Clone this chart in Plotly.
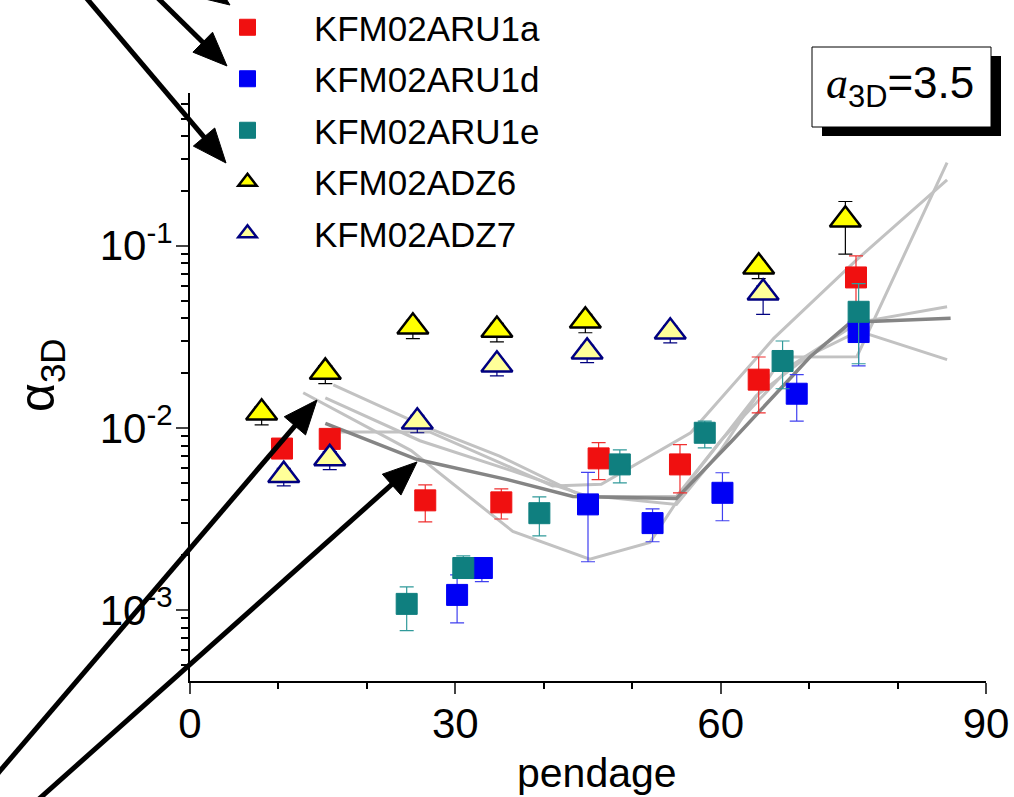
import math
import plotly.graph_objects as go

# ---------------- data ----------------
aru1a_x = [10.4, 15.8, 26.6, 35.2, 46.2, 55.4, 64.3, 75.3]
aru1a_y = [0.0077, 0.0087, 0.0040, 0.0039, 0.0068, 0.0063, 0.0184, 0.067]
aru1a_hi = [0.0077, 0.0087, 0.00486, 0.00462, 0.0083, 0.0081, 0.0245, 0.088]
aru1a_lo = [0.0077, 0.0087, 0.00305, 0.00316, 0.0052, 0.0044, 0.0121, 0.045]

aru1d_x = [30.2, 33.0, 45.0, 52.3, 60.2, 68.6, 75.6]
aru1d_y = [0.00121, 0.0017, 0.0038, 0.0030, 0.0044, 0.0154, 0.0336]
aru1d_hi = [0.00156, 0.0017, 0.0057, 0.00359, 0.00567, 0.0196, 0.042]
aru1d_lo = [0.00085, 0.00143, 0.00184, 0.00237, 0.00309, 0.0109, 0.0219]

aru1e_x = [24.5, 30.9, 39.5, 48.6, 58.2, 67.0, 75.6]
aru1e_y = [0.00108, 0.0017, 0.0034, 0.0063, 0.0094, 0.0233, 0.0434]
aru1e_hi = [0.00134, 0.00198, 0.00418, 0.00757, 0.0109, 0.030, 0.062]
aru1e_lo = [0.00077, 0.00152, 0.00255, 0.00499, 0.00776, 0.0164, 0.0225]

adz6_x = [8.1, 15.3, 25.2, 34.7, 44.7, 64.3, 74.1]
adz6_y = [0.0121, 0.0203, 0.0359, 0.0345, 0.0387, 0.0767, 0.139]
adz6_hi = [0.0131, 0.0220, 0.0390, 0.0375, 0.0420, 0.083, 0.175]
adz6_lo = [0.0104, 0.0175, 0.0309, 0.0297, 0.0333, 0.066, 0.090]

adz7_x = [10.6, 15.8, 25.7, 34.7, 44.9, 54.3, 64.8]
adz7_y = [0.0055, 0.0068, 0.0108, 0.0222, 0.0262, 0.0337, 0.0552]
adz7_hi = [0.0060, 0.0074, 0.0117, 0.0240, 0.0284, 0.0365, 0.060]
adz7_lo = [0.0048, 0.0059, 0.0094, 0.0193, 0.0228, 0.0293, 0.042]

# model curves (grey)
fit_dark_x = [15.3, 25.7, 35.9, 43.3, 55.0, 61.4, 70.1, 74.7, 86.0]
fit_dark_y = [0.0106, 0.0067, 0.0052, 0.0042, 0.0041, 0.0086, 0.0245, 0.038, 0.040]

fit_b_x = [16.2, 26.9, 35.0, 44.0, 55.0, 60.0, 67.0, 75.4, 85.6]
fit_b_y = [0.0172, 0.0100, 0.0070, 0.0043, 0.0038, 0.0075, 0.0245, 0.0246, 0.286]

fit_c_x = [17.0, 27.1, 36.5, 41.0, 46.5, 56.6, 66.0, 75.4, 85.6]
fit_c_y = [0.0095, 0.0095, 0.0060, 0.0048, 0.0049, 0.0094, 0.031, 0.084, 0.23]

fit_d_x = [12.8, 25.0, 36.5, 45.2, 52.0, 57.0, 64.0, 70.0, 75.6, 85.6]
fit_d_y = [0.0156, 0.0075, 0.0027, 0.0019, 0.00235, 0.0055, 0.015, 0.025, 0.034, 0.0237]

fit_e_x = [15.3, 26.0, 36.0, 45.0, 55.0, 60.0, 68.0, 75.6, 85.6]
fit_e_y = [0.0146, 0.0085, 0.0059, 0.0042, 0.0042, 0.0085, 0.022, 0.038, 0.0463]

x_ticks = [0, 30, 60, 90]
y_tickvals = [1e-3, 1e-2, 1e-1]
y_ticktext = ["10<sup>-3</sup>", "10<sup>-2</sup>", "10<sup>-1</sup>"]

FONT = "Liberation Sans, Arial, sans-serif"

# pixel layout of the plot area
W, H = 1014, 797
L, R, T, B = 190, 986, 93, 681


def px(xp):
    return (xp - L) / (R - L)


def py(yp):
    return (B - yp) / (B - T)


fig = go.Figure()

# grey model curves
for cx, cy in [(fit_b_x, fit_b_y), (fit_c_x, fit_c_y), (fit_d_x, fit_d_y), (fit_e_x, fit_e_y)]:
    fig.add_trace(go.Scatter(x=cx, y=cy, mode="lines", showlegend=False,
                             line=dict(color="#c2c2c2", width=3), hoverinfo="skip"))
fig.add_trace(go.Scatter(x=fit_dark_x, y=fit_dark_y, mode="lines", showlegend=False,
                         line=dict(color="#858585", width=3.5), hoverinfo="skip"))


def err(y, hi, lo):
    return ([h - v for v, h in zip(y, hi)], [v - l for v, l in zip(y, lo)])


series = [
    ("KFM02ARU1a", aru1a_x, aru1a_y, aru1a_hi, aru1a_lo, "square", 21, "#f01010", "#f01010", "#f03030"),
    ("KFM02ARU1d", aru1d_x, aru1d_y, aru1d_hi, aru1d_lo, "square", 21, "#0000f5", "#0000f5", "#4040f0"),
    ("KFM02ARU1e", aru1e_x, aru1e_y, aru1e_hi, aru1e_lo, "square", 21, "#0f7f7f", "#0f7f7f", "#309a9a"),
    ("KFM02ADZ6", adz6_x, adz6_y, adz6_hi, adz6_lo, "triangle-up", 27, "#ffff00", "#000000", "#000000"),
    ("KFM02ADZ7", adz7_x, adz7_y, adz7_hi, adz7_lo, "triangle-up", 27, "#ffff99", "#000080", "#000080"),
]

PAD = "\u00a0" * 4
for i, (name, sx, sy, shi, slo, sym, size, fill, edge, ecol) in enumerate(series):
    plus, minus = err(sy, shi, slo)
    fig.add_trace(go.Scatter(
        x=sx, y=sy, mode="markers", name=PAD + name, legendgroup=name,
        marker=dict(symbol=sym, size=size, color=fill,
                    line=dict(color=edge, width=2.5 if sym != "square" else 1)),
        error_y=dict(type="data", symmetric=False, array=plus, arrayminus=minus,
                     color=ecol, thickness=1.2, width=7),
    ))

shapes = []

# callout arrows: (tip, tail) in figure pixels; drawn as a line + filled head
arrows = [
    ((230, 5), (30, -140)),
    ((227, 66), (58, -100)),
    ((226, 163), (0, -104)),
    ((317, 400), (-30, 806)),
    ((417, 462), (30, 807)),
]
HEAD_LEN, HEAD_HALF = 34, 14
for (tx, ty), (sx0, sy0) in arrows:
    dx, dy = tx - sx0, ty - sy0
    n = math.hypot(dx, dy)
    ux, uy = dx / n, dy / n
    bx, by = tx - ux * HEAD_LEN, ty - uy * HEAD_LEN
    nx, ny = -uy, ux
    shapes.append(dict(type="line", xref="paper", yref="paper",
                       x0=px(sx0), y0=py(sy0), x1=px(bx + ux * 4), y1=py(by + uy * 4),
                       line=dict(color="black", width=5)))
    path = "M {:.5f},{:.5f} L {:.5f},{:.5f} L {:.5f},{:.5f} Z".format(
        px(tx), py(ty),
        px(bx + nx * HEAD_HALF), py(by + ny * HEAD_HALF),
        px(bx - nx * HEAD_HALF), py(by - ny * HEAD_HALF))
    shapes.append(dict(type="path", xref="paper", yref="paper", path=path,
                       fillcolor="black", line=dict(color="black", width=1)))

# a3D label box with drop shadow
shapes.append(dict(type="rect", xref="paper", yref="paper", x0=px(822), x1=px(1001),
                   y0=py(136), y1=py(56), fillcolor="black", line=dict(width=0)))
shapes.append(dict(type="rect", xref="paper", yref="paper", x0=px(812), x1=px(991),
                   y0=py(127), y1=py(47), fillcolor="white", line=dict(color="black", width=1)))

annotations = []
annotations.append(dict(
    x=px(900), y=py(86), xref="paper", yref="paper", showarrow=False,
    xanchor="center", yanchor="middle",
    text="<span style='font-family:Liberation Serif'><i>a</i></span><sub>3D</sub>=3.5",
    font=dict(size=44, color="black", family=FONT)))

annotations.append(dict(
    x=px(40), y=py(375), xref="paper", yref="paper", showarrow=False,
    xanchor="center", yanchor="middle",
    text="α<sub>3D</sub>", textangle=-90,
    font=dict(size=50, color="black", family=FONT)))

annotations.append(dict(
    x=px(597), y=py(773), xref="paper", yref="paper", showarrow=False,
    xanchor="center", yanchor="middle",
    text="pendage", font=dict(size=41, color="black", family=FONT)))

fig.update_layout(
    width=W, height=H,
    margin=dict(l=L, r=W - R, t=T, b=H - B, autoexpand=False),
    paper_bgcolor="white", plot_bgcolor="white",
    font=dict(family=FONT, color="black"),
    showlegend=True,
    legend=dict(x=px(220), y=py(-2), xanchor="left", yanchor="top",
                bgcolor="rgba(0,0,0,0)", font=dict(size=35, color="black", family=FONT),
                itemsizing="trace", tracegroupgap=3, itemwidth=45),
    annotations=annotations,
    shapes=shapes,
)

fig.update_xaxes(range=[0, 90], tickvals=x_ticks, ticks="outside", ticklen=11, tickwidth=2,
                 showline=True, linewidth=2, linecolor="black", showgrid=False, zeroline=False,
                 automargin=False, ticklabelstandoff=-6,
                 tickfont=dict(size=42, family=FONT, color="black"),
                 minor=dict(dtick=10, ticks="outside", ticklen=6, tickwidth=1.5, tickcolor="black"))

fig.update_yaxes(type="log", range=[-3.39, -0.161], tickvals=y_tickvals, ticktext=y_ticktext,
                 ticks="outside", ticklen=12, tickwidth=2, automargin=False, ticklabelstandoff=-5,
                 showline=True, linewidth=2, linecolor="black", showgrid=False, zeroline=False,
                 tickfont=dict(size=42, family=FONT, color="black"),
                 minor=dict(dtick="D1", ticks="outside", ticklen=7, tickwidth=1.5, tickcolor="black"))

fig.write_html("out.html", config={"displayModeBar": False},
               post_script="document.body.style.margin='0px';document.body.style.padding='0px';")
